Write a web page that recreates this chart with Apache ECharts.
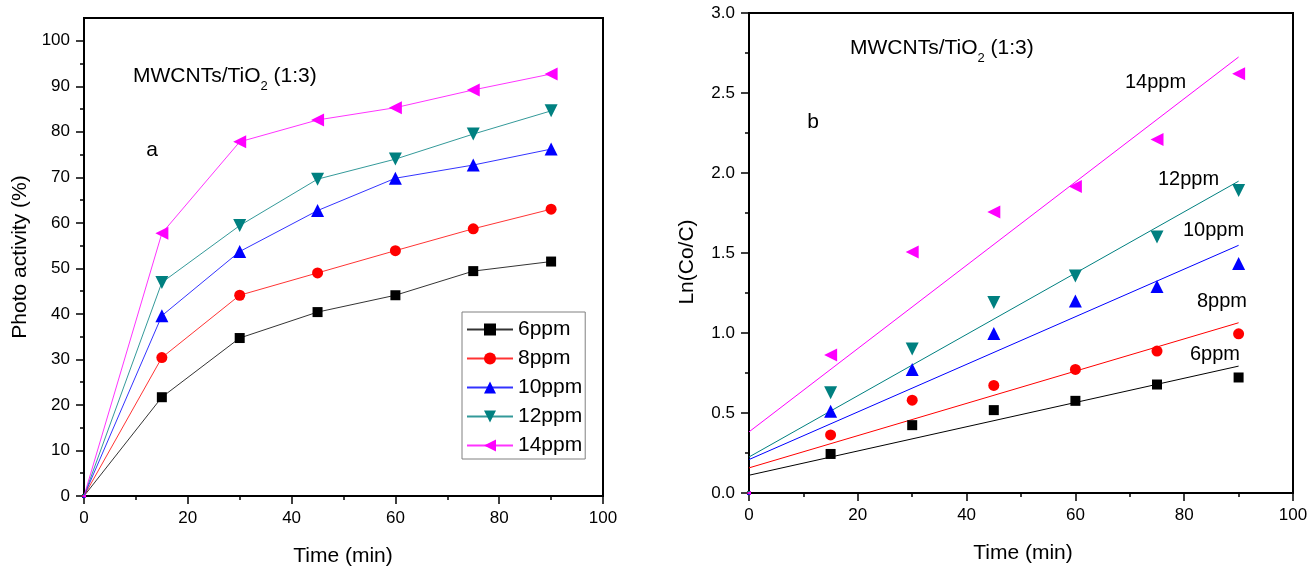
<!DOCTYPE html>
<html>
<head>
<meta charset="utf-8">
<script src="https://cdn.jsdelivr.net/npm/echarts@6/dist/echarts.min.js"></script>
<style>html,body{margin:0;padding:0;background:#fff}#c{width:1312px;height:571px}</style>
</head>
<body>
<div id="c"></div>
<script>
// ---- data ----
const times = [0, 15, 30, 45, 60, 75, 90];
const seriesNames = ['6ppm', '8ppm', '10ppm', '12ppm', '14ppm'];
const colors = ['#000000', '#ff0000', '#0000ff', '#008080', '#ff00ff'];
const symbols = ['rect', 'circle', 'triangle', 'triangle', 'triangle'];
const symbolRotations = [0, 0, 0, 180, 90];
const symbolSizes = [10, 11, 13, 13, 13];

// (a) photo activity (%)
const act6 = [0, 21.7, 34.7, 40.4, 44.1, 49.4, 51.5];
const act8 = [0, 30.4, 44.1, 49.0, 53.9, 58.7, 63.0];
const act10 = [0, 39.6, 53.7, 62.7, 69.8, 72.7, 76.2];
const act12 = [0, 46.9, 59.4, 69.6, 74.0, 79.5, 84.6];
const act14 = [0, 57.7, 77.8, 82.6, 85.3, 89.2, 92.7];

// (b) Ln(Co/C)
const ln6 = [0, 0.244, 0.424, 0.518, 0.576, 0.678, 0.722];
const ln8 = [0, 0.363, 0.58, 0.672, 0.772, 0.887, 0.995];
const ln10 = [0, 0.511, 0.772, 0.997, 1.20, 1.29, 1.435];
const ln12 = [0, 0.626, 0.90, 1.19, 1.356, 1.60, 1.89];
const ln14 = [0, 0.862, 1.506, 1.757, 1.915, 2.21, 2.62];

// fitted lines (read endpoints, t = 0 and t = 90)
const fitTimes = [0, 90];
const fit6 = [0.111, 0.793];
const fit8 = [0.157, 1.064];
const fit10 = [0.209, 1.548];
const fit12 = [0.225, 1.949];
const fit14 = [0.382, 2.725];

// tick values
const leftYMajor = [0, 10, 20, 30, 40, 50, 60, 70, 80, 90, 100];
const leftYMinor = [5, 15, 25, 35, 45, 55, 65, 75, 85, 95];

const actData = [act6, act8, act10, act12, act14];
const lnData = [ln6, ln8, ln10, ln12, ln14];
const fitData = [fit6, fit8, fit10, fit12, fit14];

const FONT = "'Liberation Sans', Arial, sans-serif";
const chart = echarts.init(document.getElementById('c'));

function pairs(xs, ys) { return xs.map((x, i) => [x, ys[i]]); }
// markers sitting on the axis corner are mostly hidden in the original
function sizeFn(s) { return (v) => (v[0] === 0 ? 4 : s); }

const axisLineStyle = { color: '#000', width: 2 };
function xAxisCfg(gridIndex) {
  return {
    type: 'value', gridIndex, min: 0, max: 100, interval: 20,
    axisLine: { show: true, onZero: false, lineStyle: axisLineStyle },
    axisTick: { show: true, length: 8, lineStyle: { color: '#000', width: 1.5 } },
    minorTick: { show: true, splitNumber: 2, length: 4, lineStyle: { color: '#000', width: 1.5 } },
    axisLabel: { color: '#000', fontSize: 17, fontFamily: FONT, margin: 14 },
    splitLine: { show: false }, minorSplitLine: { show: false }
  };
}

const series = [];
seriesNames.forEach((n, i) => {
  series.push({
    name: n, type: 'line', xAxisIndex: 0, yAxisIndex: 0,
    data: pairs(times, actData[i]),
    symbol: symbols[i], symbolSize: sizeFn(symbolSizes[i]), symbolRotate: symbolRotations[i],
    showAllSymbol: true,
    itemStyle: { color: colors[i], opacity: 1 },
    lineStyle: { color: colors[i], width: 1, opacity: 0.8 },
    emphasis: { disabled: true }, animation: false, z: 3
  });
});
seriesNames.forEach((n, i) => {
  series.push({
    name: 'fit ' + n, type: 'line', xAxisIndex: 1, yAxisIndex: 2,
    data: pairs(fitTimes, fitData[i]), showSymbol: false, symbol: 'none',
    lineStyle: { color: colors[i], width: 1 },
    emphasis: { disabled: true }, animation: false, z: 2
  });
});
seriesNames.forEach((n, i) => {
  series.push({
    name: 'pts ' + n, type: 'scatter', xAxisIndex: 1, yAxisIndex: 2,
    data: pairs(times, lnData[i]),
    symbol: symbols[i], symbolSize: sizeFn(symbolSizes[i]), symbolRotate: symbolRotations[i],
    itemStyle: { color: colors[i], opacity: 1 },
    emphasis: { disabled: true }, animation: false, z: 3
  });
});

function titleText(left, top) {
  return {
    type: 'text', left, top, z: 10,
    style: {
      text: '{a|MWCNTs/TiO}{s|2}{a| (1:3)}',
      rich: {
        a: { fontSize: 21, fontFamily: FONT, fill: '#000', color: '#000', verticalAlign: 'bottom', lineHeight: 24 },
        s: { fontSize: 13, fontFamily: FONT, fill: '#000', color: '#000', verticalAlign: 'bottom', lineHeight: 24, padding: [0, 0, -6, 0] }
      }
    }
  };
}
function plainText(text, x, y, size, align) {
  return {
    type: 'text', x, y, z: 10,
    style: { text, fontSize: size, fontFamily: FONT, fill: '#000', align: align || 'left', verticalAlign: 'middle' }
  };
}
function rotText(text, x, y, size) {
  return {
    type: 'text', x, y, rotation: Math.PI / 2, z: 10,
    style: { text, fontSize: size, fontFamily: FONT, fill: '#000', align: 'center', verticalAlign: 'middle' }
  };
}

chart.setOption({
  animation: false,
  backgroundColor: '#fff',
  grid: [
    { left: 84, top: 18, width: 519, height: 478, show: true, borderColor: '#000', borderWidth: 2, backgroundColor: 'transparent' },
    { left: 749, top: 13, width: 544, height: 480, show: true, borderColor: '#000', borderWidth: 2, backgroundColor: 'transparent' }
  ],
  xAxis: [xAxisCfg(0), xAxisCfg(1)],
  yAxis: [
    {
      type: 'value', gridIndex: 0, min: 0, max: 105,
      axisLine: { show: true, onZero: false, lineStyle: axisLineStyle },
      axisTick: { show: true, length: 8, customValues: leftYMajor, lineStyle: { color: '#000', width: 1.5 } },
      axisLabel: { color: '#000', fontSize: 17, fontFamily: FONT, margin: 14, customValues: leftYMajor },
      splitLine: { show: false }
    },
    {
      type: 'value', gridIndex: 0, min: 0, max: 105, position: 'left',
      axisLine: { show: false },
      axisTick: { show: true, length: 4, customValues: leftYMinor, lineStyle: { color: '#000', width: 1.5 } },
      axisLabel: { show: false },
      splitLine: { show: false }
    },
    {
      type: 'value', gridIndex: 1, min: 0, max: 3, interval: 0.5,
      axisLine: { show: true, onZero: false, lineStyle: axisLineStyle },
      axisTick: { show: true, length: 8, lineStyle: { color: '#000', width: 1.5 } },
      minorTick: { show: true, splitNumber: 2, length: 4, lineStyle: { color: '#000', width: 1.5 } },
      axisLabel: { color: '#000', fontSize: 17, fontFamily: FONT, margin: 14, formatter: v => v.toFixed(1) },
      splitLine: { show: false }, minorSplitLine: { show: false }
    }
  ],
  legend: {
    data: seriesNames.map(n => ({ name: n, itemStyle: { opacity: 1 } })),
    orient: 'vertical', left: 462, top: 312,
    itemWidth: 46, itemHeight: 15, itemGap: 8,
    padding: [7, 3, 3, 4],
    borderColor: '#808080', borderWidth: 1, backgroundColor: '#fff',
    textStyle: { fontSize: 21, fontFamily: FONT, color: '#000', padding: [0, 0, 0, 0] },
    selectedMode: false
  },
  graphic: [
    titleText(133, 66),
    titleText(850, 38),
    plainText('a', 152, 150, 21, 'center'),
    plainText('b', 813, 122, 21, 'center'),
    rotText('Photo activity (%)', 20, 257, 21),
    rotText('Ln(Co/C)', 687, 262, 21),
    plainText('Time (min)', 343, 556, 21, 'center'),
    plainText('Time (min)', 1023, 553, 21, 'center'),
    plainText('14ppm', 1125, 82, 20),
    plainText('12ppm', 1158, 179, 20),
    plainText('10ppm', 1183, 230, 20),
    plainText('8ppm', 1197, 301, 20),
    plainText('6ppm', 1190, 354, 20)
  ],
  series
});
</script>
</body>
</html>
